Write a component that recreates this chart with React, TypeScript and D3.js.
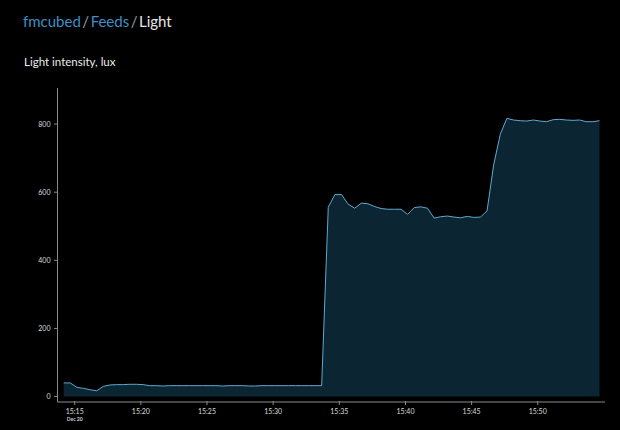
import React from 'react';
import * as d3 from 'd3';

// light readings, one every 30 s starting 15:14:10 on Dec 20
const startTime = '2014-12-20 15:14:10';
const stepSeconds = 30;
const lux = [
  40, 40, 27, 24, 20, 17, 30, 34, 35, 35,
  36, 36, 35, 32, 32, 31, 32, 32, 32, 32,
  32, 32, 32, 32, 31, 32, 32, 32, 31, 31,
  32, 32, 32, 32, 32, 32, 32, 32, 32, 32,
  556, 593, 593, 565, 553, 568, 566, 558, 552, 550,
  550, 550, 535, 555, 557, 553, 524, 528, 530, 527,
  525, 529, 526, 527, 545, 680, 770, 817, 812, 810,
  809, 812, 809, 807, 813, 814, 812, 811, 812, 807,
  807, 810,
];

const xDomain = ['2014-12-20 15:13:42', '2014-12-20 15:55:05'];
const xTickLabels = ['15:15', '15:20', '15:25', '15:30', '15:35', '15:40', '15:45', '15:50'];
const yTicks = [0, 200, 400, 600, 800];
const yDomain = [-16, 906];

const titleParts = [
  { text: 'fmcubed', color: '#3d8fc4' },
  { text: '/', color: '#9a9a9a' },
  { text: 'Feeds', color: '#3d8fc4' },
  { text: '/', color: '#9a9a9a' },
  { text: 'Light', color: '#e6e6e6' },
];

const parse = d3.timeParse('%Y-%m-%d %H:%M:%S');

export default function App() {
  const t0 = parse(startTime) as Date;
  const data = lux.map((v, i) => ({ t: d3.timeSecond.offset(t0, i * stepSeconds), v }));

  const x = d3.scaleTime()
    .domain(xDomain.map(d => parse(d) as Date))
    .range([57.5, 605]);
  const y = d3.scaleLinear().domain(yDomain).range([402, 88]);

  const area = d3.area<{ t: Date; v: number }>()
    .x(d => x(d.t))
    .y0(y(0))
    .y1(d => y(d.v));
  const line = d3.line<{ t: Date; v: number }>()
    .x(d => x(d.t))
    .y(d => y(d.v));

  const font = 'Lato, "Open Sans", sans-serif';
  const axisY = y.range()[0];
  const axisX = x.range()[0];

  return (
    <svg
      width={620}
      height={430}
      style={{ position: 'fixed', left: 0, top: 0, background: '#000' }}
      fontFamily={font}
    >
      <rect width={620} height={430} fill="#000" />

      <text x={23} y={27} fontSize={15}>
        {titleParts.map((p, i) => (
          <tspan key={i} fill={p.color} dx={p.text === '/' ? 1.5 : i > 0 ? 1.5 : 0}>{p.text}</tspan>
        ))}
      </text>
      <text x={24} y={66} fontSize={11.5} fill="#ececec">Light intensity, lux</text>

      <path d={area(data) || ''} fill="#0b2533" />
      <path d={line(data) || ''} fill="none" stroke="#5fa9cf" strokeWidth={1} />

      {/* y axis */}
      <line x1={axisX} x2={axisX} y1={y.range()[1]} y2={axisY} stroke="#8a8a8a" />
      {yTicks.map(t => (
        <g key={t} transform={`translate(0,${y(t)})`}>
          <line x1={axisX - 3.5} x2={axisX} stroke="#8a8a8a" />
          <text x={axisX - 7} dy="0.35em" textAnchor="end" fontSize={7} fill="#dcdcdc">{t}</text>
        </g>
      ))}

      {/* x axis */}
      <line x1={axisX} x2={x.range()[1]} y1={axisY} y2={axisY} stroke="#8a8a8a" />
      {xTickLabels.map((lbl, i) => {
        const px = x(parse(`2014-12-20 ${lbl}:00`) as Date);
        return (
          <g key={lbl} transform={`translate(${px},${axisY})`}>
            <line y1={-1} y2={3} stroke="#8a8a8a" />
            <text y={12} textAnchor="middle" fontSize={7} fill="#dcdcdc">{lbl}</text>
            {i === 0 && (
              <text y={18.5} textAnchor="middle" fontSize={5} fontWeight="bold" fill="#cfcfcf">Dec 20</text>
            )}
          </g>
        );
      })}
    </svg>
  );
}
